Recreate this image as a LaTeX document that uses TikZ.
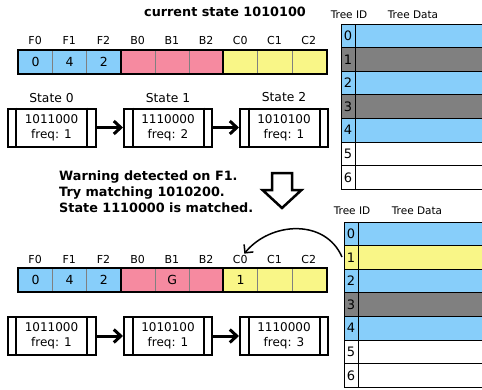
\documentclass[tikz,border=0pt]{standalone}
\usepackage{fontspec}
\setmainfont{DejaVu Sans}
\usetikzlibrary{arrows.meta}
\definecolor{cblue}{RGB}{135,206,250}
\definecolor{cpink}{RGB}{246,138,160}
\definecolor{cyel}{RGB}{249,246,135}
\definecolor{cgray}{RGB}{128,128,128}
\tikzset{
  cell/.style={draw=gray, line width=0.8pt, minimum width=34.2pt, minimum height=24pt, inner sep=0pt, anchor=north west, font=\fontsize{12.5}{14}\selectfont},
  reglab/.style={inner sep=0pt, font=\fontsize{11}{13}\selectfont},
  statebox/.style={draw, line width=2pt, minimum width=88pt, minimum height=38pt, inner sep=0pt, align=center, font=\fontsize{12}{15}\selectfont},
  statelab/.style={inner sep=0pt, font=\fontsize{12.3}{14}\selectfont},
  flow/.style={line width=3pt, -{Straight Barb[length=7pt,width=13pt]}},
  boldtxt/.style={inner sep=0pt, font=\bfseries\fontsize{12.8}{16}\selectfont},
  tid/.style={inner sep=0pt, font=\fontsize{13}{15}\selectfont},
  thead/.style={inner sep=0pt, font=\fontsize{10.5}{12}\selectfont},
  tline/.style={line width=0.9pt},
  sidebar/.style={line width=2pt}
}
\begin{document}
\begin{tikzpicture}[x=1pt,y=-1pt]
\useasboundingbox (0,0) rectangle (482,389);

% title
\node[boldtxt] (title) at (225,12) {current state 1010100};

% top register
\foreach \lab/\col/\txt [count=\i from 0] in {F0/cblue/0,F1/cblue/4,F2/cblue/2,B0/cpink/,B1/cpink/,B2/cpink/,C0/cyel/,C1/cyel/,C2/cyel/}{
  \node[cell, fill=\col] (ra\i) at ({18+\i*34.2},49.5) {\txt};
  \node[reglab] (la\i) at ({35.1+\i*34.2},40) {\lab};
}
\draw[line width=2pt] (ra0.north west) rectangle (ra8.south east);
\draw[line width=2pt] (ra3.north west) -- (ra3.south west);
\draw[line width=2pt] (ra6.north west) -- (ra6.south west);

% top states
\node[statelab] (sl0) at (51.5,98) {State 0};
\node[statelab] (sl1) at (168,98) {State 1};
\node[statelab] (sl2) at (284,97) {State 2};
\node[statebox] (s0) at (51.5,127.5) {1011000\\freq: 1};
\node[statebox] (s1) at (168,127.5) {1110000\\freq: 2};
\node[statebox] (s2) at (284,127.5) {1010100\\freq: 1};
\foreach \s in {s0,s1,s2}{
  \draw[sidebar] ([xshift=9.5pt]\s.north west) -- ([xshift=9.5pt]\s.south west);
  \draw[sidebar] ([xshift=-9.5pt]\s.north east) -- ([xshift=-9.5pt]\s.south east);
}
\draw[flow] (s0.east) -- (s1.west);
\draw[flow] (s1.east) -- (s2.west);

% table 1
\node[thead] (h1a) at (349,15) {Tree ID};
\node[thead] (h1b) at (413,15) {Tree Data};
\foreach \c [count=\i from 0] in {cblue,cgray,cblue,cgray,cblue,white,white}{
  \fill[\c] (341,{24+\i*23.6}) rectangle (484,{24+(\i+1)*23.6});
  \node[tid] (ta\i) at (348,{24+(\i+0.5)*23.6}) {\i};
}
\foreach \i in {0,...,7}{
  \draw[tline] (341,{24+\i*23.6}) -- (484,{24+\i*23.6});
}
\draw[tline] (341,24) -- (341,189.2);
\draw[tline] (355,24) -- (355,189.2);

% warning text and hollow arrow
\node[boldtxt, align=left, anchor=west] (warn) at (59,192) {Warning detected on F1.\\Try matching 1010200.\\State 1110000 is matched.};
\draw[line width=2.5pt, fill=white, line join=miter] (272,173) -- (292,173) -- (292,190) -- (301.5,190) -- (282,208) -- (262.5,190) -- (272,190) -- cycle;

% table 2
\node[thead] (h2a) at (352,211) {Tree ID};
\node[thead] (h2b) at (417,211) {Tree Data};
\foreach \c [count=\i from 0] in {cblue,cyel,cblue,cgray,cblue,white,white}{
  \fill[\c] (344,{222+\i*23.6}) rectangle (484,{222+(\i+1)*23.6});
  \node[tid] (tb\i) at (351,{222+(\i+0.5)*23.6}) {\i};
}
\foreach \i in {0,...,7}{
  \draw[tline] (344,{222+\i*23.6}) -- (484,{222+\i*23.6});
}
\draw[tline] (344,222) -- (344,387.2);
\draw[tline] (358,222) -- (358,387.2);

% bottom register
\foreach \lab/\col/\txt [count=\i from 0] in {F0/cblue/0,F1/cblue/4,F2/cblue/2,B0/cpink/,B1/cpink/G,B2/cpink/,C0/cyel/1,C1/cyel/,C2/cyel/}{
  \node[cell, fill=\col] (rb\i) at ({18+\i*34.2},267.5) {\txt};
  \node[reglab] (lb\i) at ({35.1+\i*34.2},259) {\lab};
}
\draw[line width=2pt] (rb0.north west) rectangle (rb8.south east);
\draw[line width=2pt] (rb3.north west) -- (rb3.south west);
\draw[line width=2pt] (rb6.north west) -- (rb6.south west);

% curved arrow from table row 1 to C0
\coordinate (tbw1) at (342,257);
\draw[line width=1.5pt, -{Straight Barb[length=6pt,width=12pt]}] (tbw1) .. controls (325,218) and (270,222) .. ([xshift=4pt,yshift=1pt]lb6.north);

% bottom states
\node[statebox] (t0) at (51.5,336) {1011000\\freq: 1};
\node[statebox] (t1) at (168,336) {1010100\\freq: 1};
\node[statebox] (t2) at (284,336) {1110000\\freq: 3};
\foreach \s in {t0,t1,t2}{
  \draw[sidebar] ([xshift=9.5pt]\s.north west) -- ([xshift=9.5pt]\s.south west);
  \draw[sidebar] ([xshift=-9.5pt]\s.north east) -- ([xshift=-9.5pt]\s.south east);
}
\draw[flow] (t0.east) -- (t1.west);
\draw[flow] (t1.east) -- (t2.west);
\end{tikzpicture}
\end{document}
